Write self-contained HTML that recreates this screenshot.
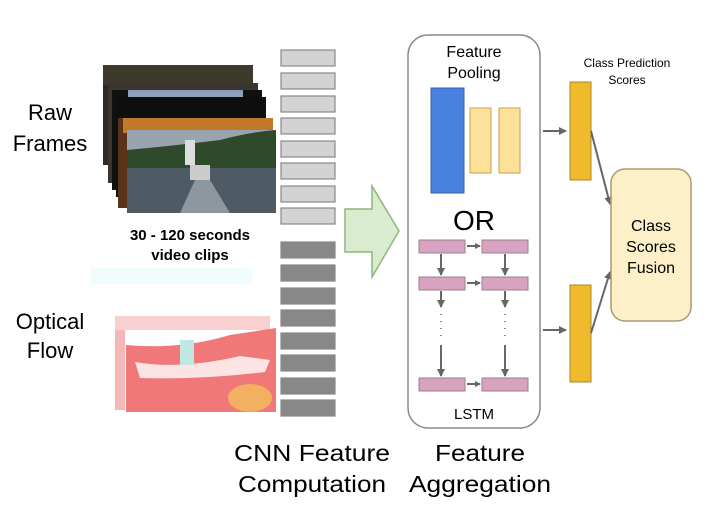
<!DOCTYPE html>
<html><head><meta charset="utf-8"><style>
html,body{margin:0;padding:0;background:#fff;}
svg{display:block;}
text{font-family:"Liberation Sans",sans-serif;}
</style></head><body>
<svg width="720" height="520" viewBox="0 0 720 520" xmlns="http://www.w3.org/2000/svg">
<defs>
<marker id="ah" markerWidth="8" markerHeight="8" refX="7" refY="4" orient="auto" markerUnits="userSpaceOnUse">
<path d="M0,0 L8,4 L0,8 z" fill="#666"/></marker>
<marker id="ahs" markerWidth="6" markerHeight="6" refX="5" refY="3" orient="auto" markerUnits="userSpaceOnUse">
<path d="M0,0 L6,3 L0,6 z" fill="#666"/></marker>
<linearGradient id="sky" x1="0" y1="0" x2="0" y2="1">
<stop offset="0" stop-color="#8a9bb8"/><stop offset="1" stop-color="#b9c3d6"/></linearGradient>
<linearGradient id="water" x1="0" y1="0" x2="0" y2="1">
<stop offset="0" stop-color="#5b6670"/><stop offset="1" stop-color="#3a4550"/></linearGradient>
</defs>

<!-- left labels -->
<text x="50" y="120" font-size="22" text-anchor="middle">Raw</text>
<text x="50" y="151" font-size="22" text-anchor="middle">Frames</text>
<text x="50" y="329" font-size="22" text-anchor="middle">Optical</text>
<text x="50" y="358" font-size="22" text-anchor="middle">Flow</text>

<!-- frame stack -->
<rect x="103" y="65" width="150" height="100" fill="#2e2c22"/>
<rect x="103" y="65" width="150" height="20" fill="#3d3a2c"/>
<rect x="108" y="83" width="150" height="100" fill="#3a3530"/>
<rect x="112" y="90" width="150" height="100" fill="#111"/>
<rect x="128" y="90" width="115" height="40" fill="url(#sky)"/>
<rect x="116" y="97" width="150" height="100" fill="#0e0e0e"/>
<rect x="118" y="118" width="154" height="90" fill="#5a3318"/>
<rect x="123" y="118" width="150" height="15" fill="#c07a2a"/>
<rect x="127" y="130" width="149" height="83" fill="url(#water)"/>
<rect x="127" y="130" width="149" height="25" fill="#9aa4ae"/>
<path d="M127,150 Q180,145 220,140 Q250,132 276,130 L276,170 L127,170 z" fill="#2f4a2a"/>
<rect x="127" y="168" width="149" height="45" fill="#4e5a64"/>
<path d="M180,213 L195,180 L210,180 L230,213 z" fill="#8d979f"/>
<rect x="190" y="165" width="20" height="15" fill="#ccc"/>
<rect x="185" y="140" width="10" height="25" fill="#ddd"/>

<text x="190" y="240" font-size="15" font-weight="bold" text-anchor="middle">30 - 120 seconds</text>
<text x="190" y="260" font-size="15" font-weight="bold" text-anchor="middle">video clips</text>
<rect x="90" y="268" width="162" height="16" fill="#f0fcfd"/>

<!-- optical flow -->
<rect x="115" y="316" width="155" height="14" fill="#f8d0d0"/>
<rect x="115" y="330" width="10" height="80" fill="#f4b8b8"/>
<path d="M126,345 Q180,350 230,335 L276,328 L276,412 L126,412 z" fill="#f07878"/>
<path d="M135,362 Q180,370 240,356 L270,360 L265,372 Q200,380 140,378 z" fill="#fff" opacity="0.8"/>
<ellipse cx="250" cy="398" rx="22" ry="14" fill="#f3b060"/>
<rect x="180" y="340" width="14" height="25" fill="#bfe8e0"/>

<!-- CNN bars -->
<g stroke="#888" stroke-width="1.2">
<rect x="281" y="50" width="54" height="16" fill="#d3d3d3"/>
<rect x="281" y="73" width="54" height="16" fill="#d3d3d3"/>
<rect x="281" y="96" width="54" height="16" fill="#d3d3d3"/>
<rect x="281" y="118" width="54" height="16" fill="#d3d3d3"/>
<rect x="281" y="141" width="54" height="16" fill="#d3d3d3"/>
<rect x="281" y="163" width="54" height="16" fill="#d3d3d3"/>
<rect x="281" y="186" width="54" height="16" fill="#d3d3d3"/>
<rect x="281" y="208" width="54" height="16" fill="#d3d3d3"/>
<rect x="281" y="242" width="54" height="16" fill="#888"/>
<rect x="281" y="265" width="54" height="16" fill="#888"/>
<rect x="281" y="288" width="54" height="16" fill="#888"/>
<rect x="281" y="310" width="54" height="16" fill="#888"/>
<rect x="281" y="333" width="54" height="16" fill="#888"/>
<rect x="281" y="355" width="54" height="16" fill="#888"/>
<rect x="281" y="378" width="54" height="16" fill="#888"/>
<rect x="281" y="400" width="54" height="16" fill="#888"/>
</g>

<!-- green arrow -->
<path d="M345,209 L372,209 L372,186 L399,231 L372,277 L372,252 L345,252 z" fill="#d9ecd0" stroke="#90b57a" stroke-width="1.5"/>

<!-- aggregation box -->
<rect x="408" y="35" width="132" height="393" rx="20" fill="#fff" stroke="#888" stroke-width="1.5"/>
<text x="474" y="57" font-size="16" text-anchor="middle">Feature</text>
<text x="474" y="78" font-size="16" text-anchor="middle">Pooling</text>
<rect x="431" y="88" width="33" height="105" fill="#4a80e0" stroke="#3a60a8"/>
<rect x="470" y="108" width="21" height="65" fill="#fde09a" stroke="#c9a04a"/>
<rect x="499" y="108" width="21" height="65" fill="#fde09a" stroke="#c9a04a"/>
<text x="474" y="230" font-size="28" text-anchor="middle">OR</text>

<g fill="#d7a3c0" stroke="#9a7f8e">
<rect x="419" y="240" width="46" height="13"/>
<rect x="482" y="240" width="46" height="13"/>
<rect x="419" y="277" width="46" height="13"/>
<rect x="482" y="277" width="46" height="13"/>
<rect x="419" y="378" width="46" height="13"/>
<rect x="482" y="378" width="46" height="13"/>
</g>
<g stroke="#666" stroke-width="2" fill="none">
<line x1="467" y1="246" x2="480" y2="246" marker-end="url(#ahs)"/>
<line x1="467" y1="283" x2="480" y2="283" marker-end="url(#ahs)"/>
<line x1="467" y1="384" x2="480" y2="384" marker-end="url(#ahs)"/>
<line x1="441" y1="254" x2="441" y2="275" marker-end="url(#ah)"/>
<line x1="505" y1="254" x2="505" y2="275" marker-end="url(#ah)"/>
<line x1="441" y1="291" x2="441" y2="307" marker-end="url(#ah)"/>
<line x1="505" y1="291" x2="505" y2="307" marker-end="url(#ah)"/>
<line x1="441" y1="345" x2="441" y2="376" marker-end="url(#ah)"/>
<line x1="505" y1="345" x2="505" y2="376" marker-end="url(#ah)"/>
<line x1="441" y1="314" x2="441" y2="340" stroke-dasharray="1 6" stroke-width="1.5"/>
<line x1="505" y1="314" x2="505" y2="340" stroke-dasharray="1 6" stroke-width="1.5"/>
</g>
<text x="474" y="419" font-size="15" text-anchor="middle">LSTM</text>

<!-- class scores -->
<text x="627" y="67" font-size="12" text-anchor="middle">Class Prediction</text>
<text x="627" y="84" font-size="12" text-anchor="middle">Scores</text>
<rect x="570" y="82" width="21" height="98" fill="#efbb2c" stroke="#a88428"/>
<rect x="570" y="285" width="21" height="97" fill="#efbb2c" stroke="#a88428"/>
<g stroke="#666" stroke-width="2">
<line x1="543" y1="131" x2="566" y2="131" marker-end="url(#ah)"/>
<line x1="543" y1="330" x2="566" y2="330" marker-end="url(#ah)"/>
<line x1="591" y1="131" x2="610" y2="204" marker-end="url(#ah)"/>
<line x1="591" y1="333" x2="610" y2="272" marker-end="url(#ah)"/>
</g>
<rect x="611" y="169" width="80" height="152" rx="14" fill="#fdefc8" stroke="#a89a72" stroke-width="1.5"/>
<text x="651" y="231" font-size="16" text-anchor="middle">Class</text>
<text x="651" y="252" font-size="16" text-anchor="middle">Scores</text>
<text x="651" y="273" font-size="16" text-anchor="middle">Fusion</text>

<!-- bottom labels -->
<text x="312" y="461" font-size="23" text-anchor="middle" textLength="156" lengthAdjust="spacingAndGlyphs">CNN Feature</text>
<text x="312" y="492" font-size="23" text-anchor="middle" textLength="148" lengthAdjust="spacingAndGlyphs">Computation</text>
<text x="480" y="461" font-size="23" text-anchor="middle" textLength="90" lengthAdjust="spacingAndGlyphs">Feature</text>
<text x="480" y="492" font-size="23" text-anchor="middle" textLength="142" lengthAdjust="spacingAndGlyphs">Aggregation</text>
</svg>
</body></html>
